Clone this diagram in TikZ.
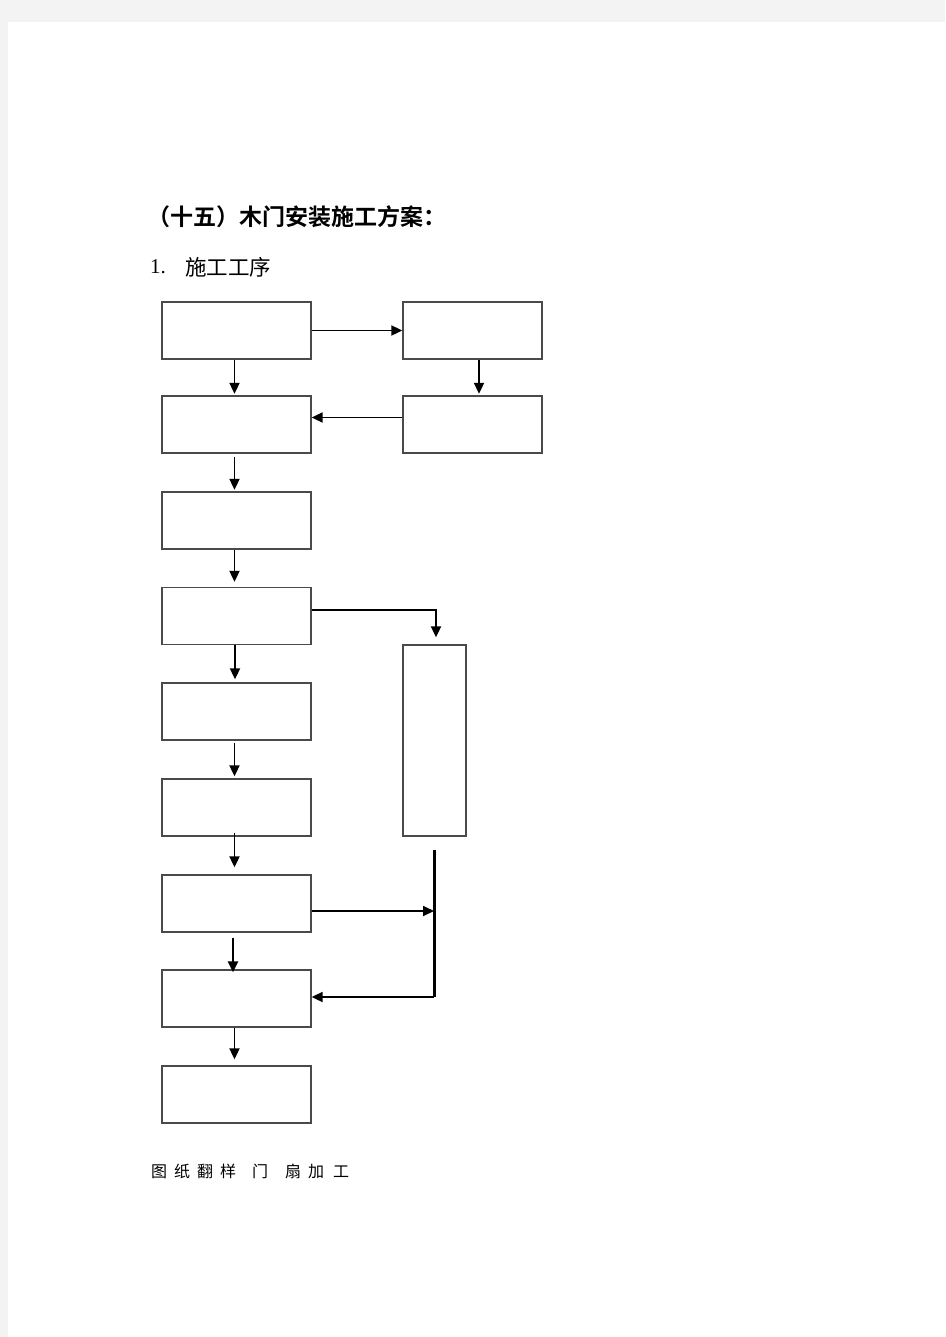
\documentclass[tikz,border=0pt]{standalone}
\usepackage{fontspec}
\newfontfamily\cjk{Noto Sans CJK SC}[BoldFont={Noto Sans CJK SC Bold}]
\newfontfamily\numfont{Liberation Serif}
\usetikzlibrary{arrows.meta}
\definecolor{pagegray}{HTML}{F3F3F3}
\definecolor{boxline}{HTML}{4A4A4A}
\begin{document}
\begin{tikzpicture}[x=1pt,y=-1pt,
  box/.style={draw=boxline,line width=1.3pt,fill=white,inner sep=0pt},
  wide/.style={box,minimum width=149pt,minimum height=57pt},
  arr/.style={draw=black,line width=1.8pt,-{Triangle[length=11pt,width=10pt]}},
  bar/.style={draw=black,line width=3pt},
  txt/.style={inner sep=0pt,anchor=west,text=black}]
\fill[pagegray] (0,0) rectangle (945,1337);
\fill[white] (8,22) rectangle (945,1337);
\useasboundingbox (0,0) rectangle (945,1337);
% title texts
\node[txt] (title) at (147,217) {\cjk\bfseries\fontsize{23}{23}\selectfont （十五）木门安装施工方案：};
\node[txt] (num) at (150,267) {\numfont\fontsize{21}{21}\selectfont 1.};
\node[txt] (sub) at (185,267) {\cjk\fontsize{21.5}{21.5}\selectfont 施工工序};
% boxes left column
\node[wide] (b1) at (236.5,330.5) {};
\node[wide] (b2) at (236.5,424.5) {};
\node[wide] (b3) at (236.5,520.5) {};
\node[wide] (b4) at (236.5,616) {};
\node[wide] (b5) at (236.5,711.5) {};
\node[wide] (b6) at (236.5,807.5) {};
\node[wide] (b7) at (236.5,903.5) {};
\node[wide] (b8) at (236.5,998.5) {};
\node[wide] (b9) at (236.5,1094.5) {};
% right boxes
\node[box,minimum width=139pt,minimum height=57pt] (r1) at (472.5,330.5) {};
\node[box,minimum width=139pt,minimum height=57pt] (r2) at (472.5,424.5) {};
\node[box,minimum width=63pt,minimum height=191pt] (tall) at (434.5,740.5) {};
% connectors
\draw[arr] (b1.east) -- (r1.west);
\draw[arr] ([xshift=6.5pt]r1.south) -- ([xshift=6.5pt,yshift=1.5pt]r2.north);
\draw[arr] ([yshift=7pt]r2.west) -- ([yshift=7pt]b2.east);
\draw[arr] ([xshift=-2pt]b1.south) -- ([xshift=-2pt,yshift=1.5pt]b2.north);
\draw[arr] ([xshift=-2pt,yshift=-3.5pt]b2.south) -- ([xshift=-2pt,yshift=1.5pt]b3.north);
\draw[arr] ([xshift=-2pt]b3.south) -- ([xshift=-2pt,yshift=5pt]b4.north);
\draw[arr] ([yshift=6pt]b4.east) -| ([xshift=1.5pt,yshift=7pt]tall.north);
\draw[arr] ([xshift=-1.5pt]b4.south) -- ([xshift=-1.5pt,yshift=3pt]b5.north);
\draw[arr] ([xshift=-2pt,yshift=-2pt]b5.south) -- ([xshift=-2pt,yshift=2pt]b6.north);
\draw[arr] ([xshift=-2pt,yshift=4pt]b6.south) -- ([xshift=-2pt,yshift=7pt]b7.north);
\draw[arr,line width=2.4pt] ([xshift=-3.5pt,yshift=-5pt]b7.south) -- ([xshift=-3.5pt,yshift=-3pt]b8.north);
\draw[arr] ([xshift=-2pt]b8.south) -- ([xshift=-2pt,yshift=6pt]b9.north);
\coordinate (vt) at (434,850);
\coordinate (vb) at (434,997);
\draw[bar] (vt) -- (vb);
\draw[arr] ([yshift=-7.5pt]b7.east) -- ([yshift=-7.5pt]b7.east -| vt);
\draw[arr] (vb) -- (vb -| b8.east);
% bottom caption
\node[txt] (cap) at (151,1171) {\cjk\fontsize{16}{16}\selectfont 图\hspace{7pt}纸\hspace{7pt}翻\hspace{7pt}样\hspace{16pt}门\hspace{17pt}扇\hspace{7pt}加\hspace{9pt}工};
\end{tikzpicture}
\end{document}
